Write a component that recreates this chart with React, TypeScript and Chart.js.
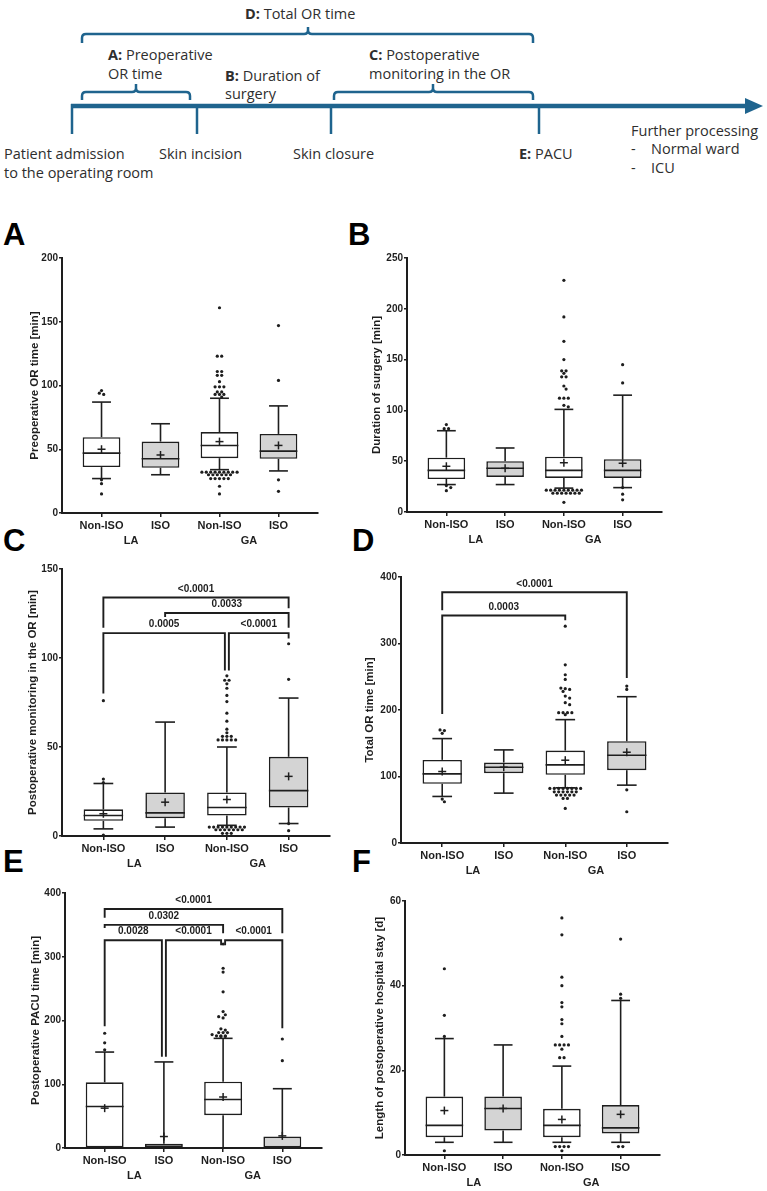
import React, { useEffect, useRef } from "react";
import { Chart, registerables } from "chart.js";

Chart.register(...registerables);

// ---------- shared labels ----------
const categories = ["Non-ISO", "ISO", "Non-ISO", "ISO"];
const groupLabels = ["LA", "GA"];

// ---------- Panel A: Preoperative OR time ----------
const aQ1 = [36, 35.5, 43, 42.5];
const aMedian = [47, 42.5, 53, 48.5];
const aQ3 = [59.5, 56, 63.5, 62];
const aLow = [27, 30, 34, 33];
const aHigh = [87, 70, 90, 84];
const aMean = [50, 45.5, 56, 53];
const aOutliers = [
  [96, 94, 93, 26, 23, 15],
  [],
  [161, 123, 123, 111, 111, 108, 108, 103, 99, 99, 99, 95, 95, 93, 93, 93, 91,
   32, 32, 32, 32, 32, 32, 32, 32, 32, 30, 30, 30, 30, 30, 30, 27, 27, 27, 27, 27, 21, 15],
  [147, 104, 26, 17],
];

// ---------- Panel B: Duration of surgery ----------
const bQ1 = [32.5, 34.5, 33.5, 33.5];
const bMedian = [41, 43, 41, 41];
const bQ3 = [53.5, 50, 54.5, 52];
const bLow = [27, 27, 23.5, 24];
const bHigh = [80, 63, 101, 115];
const bMean = [45, 43, 48.5, 48];
const bOutliers = [
  [86, 82, 82, 26, 24, 21],
  [],
  [228, 192, 168, 150, 139, 139, 136.5, 133, 133, 124, 121, 112, 112, 112, 105, 103.5,
   21.5, 21.5, 21.5, 21.5, 21.5, 21.5, 21.5, 21.5, 21.5, 18.5, 18.5, 18.5, 18.5, 18.5, 18.5, 18.5, 9.5],
  [145, 127, 24, 17.5, 12],
];

// ---------- Panel C: Postoperative monitoring in the OR ----------
const cQ1 = [8.5, 10, 11.5, 16];
const cMedian = [11.5, 13, 16, 25.5];
const cQ3 = [15, 24.5, 24.5, 44.5];
const cLow = [4, 5, 6, 7];
const cHigh = [29.5, 64, 50, 77.5];
const cMean = [12.5, 19, 20.5, 33.5];
const cOutliers = [
  [76, 32, 30, 0.5],
  [],
  [90, 87.5, 87.5, 85.5, 83, 79, 75.5, 69, 64.5, 60, 58, 56, 56, 56, 54, 54, 54, 54, 54,
   5, 5, 5, 5, 5, 5, 5, 5, 5, 3.5, 3.5, 3.5, 3.5, 3.5, 3.5, 3.5, 1.5, 1.5, 1.5],
  [108, 88, 7, 3],
];
const cBrackets = [
  { from: 0, to: 3, level: 134, legFrom: 117, legTo: 128, label: "<0.0001" },
  { from: 1, to: 3, level: 125.3, legFrom: 123, legTo: 117, label: "0.0033" },
  { from: 0, to: 2, level: 114, legFrom: 80, legTo: 93, label: "0.0005" },
  { from: 2, to: 3, level: 114, legFrom: 93, legTo: 111, label: "<0.0001" },
];

// ---------- Panel D: Total OR time ----------
const dQ1 = [89, 105, 102.5, 109.5];
const dMedian = [104, 114, 117.5, 132];
const dQ3 = [125, 121, 139, 153];
const dLow = [70, 75, 83, 87];
const dHigh = [157, 140, 185.5, 220];
const dMean = [107.5, 114, 124.5, 136.5];
const dOutliers = [
  [170, 169, 165, 66, 62],
  [],
  [326, 268, 253, 246, 233, 232, 231, 228, 221, 218, 211, 208, 196, 196, 196, 196, 193,
   82, 82, 82, 82, 82, 82, 82, 82, 77, 77, 77, 77, 77, 77, 72, 72, 72, 72, 72, 67, 67, 52],
  [236, 231, 80, 47],
];
const dBrackets = [
  { from: 0, to: 3, level: 377, legFrom: 350, legTo: 248, label: "<0.0001" },
  { from: 0, to: 2, level: 342, legFrom: 194, legTo: 335, label: "0.0003" },
];

// ---------- Panel E: Postoperative PACU time ----------
const eQ1 = [0, 0, 51.5, 0];
const eMedian = [65, 0, 76, 0];
const eQ3 = [103, 6.5, 104, 18];
const eLow = [0, 0, 0, 0];
const eHigh = [150.5, 135, 172, 93];
const eMean = [62.5, 18, 80, 19];
const eOutliers = [
  [180, 165, 154],
  [],
  [320, 282, 276, 245, 214, 209, 206, 204, 187, 185, 181, 181, 181, 178, 176, 176, 176, 175, 175],
  [171, 137],
];
const eBrackets = [
  { from: 0, to: 3, level: 375, legFrom: 361, legTo: 337, label: "<0.0001" },
  { from: 0, to: 2, level: 350, legFrom: 345, legTo: 337, label: "0.0302" },
  { from: 0, to: 1, level: 326, legFrom: 191, legTo: 143, label: "0.0028" },
  { from: 1, to: 2, level: 326, legFrom: 143, legTo: 318, label: "<0.0001" },
  { from: 2, to: 3, level: 326, legFrom: 318, legTo: 188, label: "<0.0001" },
];

// ---------- Panel F: Length of postoperative hospital stay ----------
const fQ1 = [4.2, 5.8, 4.2, 5.1];
const fMedian = [7, 11, 7, 6.4];
const fQ3 = [13.8, 13.8, 10.9, 11.8];
const fLow = [3, 3, 3, 3];
const fHigh = [27.5, 26, 21, 36.5];
const fMean = [10.5, 11, 8.4, 9.6];
const fOutliers = [
  [44, 33, 28, 1],
  [],
  [56, 52, 42, 40, 36, 35, 32, 31, 28, 26, 26, 26, 26, 25, 23, 23, 2, 2, 2, 2, 1],
  [51, 38, 37, 2, 2],
];

// ---------- styles ----------
const INK = "#1e1e1e";
const FILLS = ["#ffffff", "#d4d4d4", "#ffffff", "#d4d4d4"];
const FONT = "'Liberation Sans', Arial, sans-serif";
const TEAL = "#1f648e";
const TITLE_SIZE = 11.5;

type Stats = {
  q1: number[]; median: number[]; q3: number[]; low: number[]; high: number[];
  mean: number[]; outliers: number[][];
};
type Bracket = { from: number; to: number; level: number; legFrom: number; legTo: number; label: string };
type Box = { left: number; top: number; width: number; height: number };
type Area = { left: number; top: number; right: number; bottom: number };

// Prism-like scatter of outlier dots: rows of (nearly) equal values are centred side by side,
// a row is shifted half a step if it would touch the row above.
function swarm(ys: number[], sep: number): number[] {
  const order = ys.map((_, i) => i).sort((a, b) => ys[a] - ys[b]);
  const rows: number[][] = [];
  let cur: number[] = [];
  let start = 0;
  for (const i of order) {
    if (cur.length && ys[i] - start > 1.5) {
      rows.push(cur);
      cur = [];
    }
    if (!cur.length) start = ys[i];
    cur.push(i);
  }
  if (cur.length) rows.push(cur);
  const out = new Array(ys.length).fill(0);
  const placed: { x: number; y: number }[] = [];
  const minD = 3.3;
  for (const row of rows) {
    const n = row.length;
    const base = row.map((_, k) => (k - (n - 1) / 2) * sep);
    const shifts = [0, sep / 2, -sep / 2, sep, -sep, 1.5 * sep, -1.5 * sep];
    let best = 0;
    for (const s of shifts) {
      const ok = row.every((idx, k) =>
        placed.every((q) => (q.x - base[k] - s) ** 2 + (q.y - ys[idx]) ** 2 >= minD * minD)
      );
      if (ok) {
        best = s;
        break;
      }
    }
    row.forEach((idx, k) => {
      out[idx] = base[k] + best;
      placed.push({ x: out[idx], y: ys[idx] });
    });
  }
  return out;
}

function BoxPanel(props: {
  id: string; stats: Stats; brackets: Bracket[]; yMax: number; yStep: number;
  yTitle: string; canvas: Box; area: Area; titleX: number;
}) {
  const ref = useRef<HTMLCanvasElement>(null);
  useEffect(() => {
    const { stats, brackets, canvas: c, area: a } = props;
    const lh = TITLE_SIZE * 1.2;
    const padLeft = props.titleX - c.left - lh / 2;

    const extras = {
      id: "boxExtras" + props.id,
      afterDatasetsDraw(chart: any) {
        const ctx = chart.ctx as CanvasRenderingContext2D;
        const xs = chart.scales.x;
        const ys = chart.scales.y;
        const meta = chart.getDatasetMeta(0);
        ctx.save();
        ctx.strokeStyle = INK;
        ctx.fillStyle = INK;
        ctx.lineWidth = 1.6;
        const line = (x1: number, y1: number, x2: number, y2: number) => {
          ctx.beginPath();
          ctx.moveTo(x1, y1);
          ctx.lineTo(x2, y2);
          ctx.stroke();
        };
        stats.q1.forEach((_, i) => {
          const cx = xs.getPixelForValue(i);
          const bw = meta.data[i].width;
          const cap = bw * 0.5;
          const yQ1 = ys.getPixelForValue(stats.q1[i]);
          const yQ3 = ys.getPixelForValue(stats.q3[i]);
          const yHi = ys.getPixelForValue(stats.high[i]);
          const yLo = ys.getPixelForValue(stats.low[i]);
          const yMed = ys.getPixelForValue(stats.median[i]);
          const yMean = ys.getPixelForValue(stats.mean[i]);
          if (stats.high[i] > stats.q3[i]) {
            line(cx, yQ3, cx, yHi);
            line(cx - cap / 2, yHi, cx + cap / 2, yHi);
          }
          if (stats.low[i] < stats.q1[i]) {
            line(cx, yQ1, cx, yLo);
            line(cx - cap / 2, yLo, cx + cap / 2, yLo);
          }
          line(cx - bw / 2, yMed, cx + bw / 2, yMed);
          ctx.lineWidth = 1.5;
          line(cx - 4, yMean, cx + 4, yMean);
          line(cx, yMean - 4, cx, yMean + 4);
          ctx.lineWidth = 1.6;
          const pys = stats.outliers[i].map((v) => ys.getPixelForValue(v));
          const offs = swarm(pys, 4.4);
          pys.forEach((py, k) => {
            ctx.beginPath();
            ctx.arc(cx + offs[k], py, 1.6, 0, Math.PI * 2);
            ctx.fill();
          });
        });
        // significance brackets
        ctx.lineWidth = 1.9;
        ctx.lineJoin = "miter";
        ctx.font = `bold 10px ${FONT}`;
        ctx.textAlign = "center";
        ctx.textBaseline = "middle";
        brackets.forEach((b) => {
          let xa = xs.getPixelForValue(b.from);
          let xb = xs.getPixelForValue(b.to);
          if (brackets.some((o) => o !== b && o.level === b.level && o.to === b.from)) xa += 2;
          if (brackets.some((o) => o !== b && o.level === b.level && o.from === b.to)) xb -= 2;
          const yl = ys.getPixelForValue(b.level);
          ctx.beginPath();
          ctx.moveTo(xa, ys.getPixelForValue(b.legFrom));
          ctx.lineTo(xa, yl);
          ctx.lineTo(xb, yl);
          ctx.lineTo(xb, ys.getPixelForValue(b.legTo));
          ctx.stroke();
          ctx.fillText(b.label, (xa + xb) / 2, yl - 8.5);
        });
        ctx.restore();
      },
      afterDraw(chart: any) {
        const ctx = chart.ctx as CanvasRenderingContext2D;
        const xs = chart.scales.x;
        ctx.save();
        ctx.fillStyle = INK;
        ctx.font = `bold 11px ${FONT}`;
        ctx.textAlign = "center";
        ctx.textBaseline = "middle";
        groupLabels.forEach((g, gi) => {
          const cx = (xs.getPixelForValue(gi * 2) + xs.getPixelForValue(gi * 2 + 1)) / 2;
          ctx.fillText(g, cx, chart.chartArea.bottom + 28);
        });
        ctx.restore();
      },
    };

    const chart = new Chart(ref.current as HTMLCanvasElement, {
      type: "bar",
      data: {
        datasets: [
          {
            data: stats.q1.map((v, i) => ({ x: i, y: [v, stats.q3[i]] })) as any,
            backgroundColor: FILLS,
            borderColor: INK,
            borderWidth: 1.6,
            borderSkipped: false,
            barPercentage: 0.64,
            categoryPercentage: 1,
          },
        ],
      },
      options: {
        responsive: false,
        animation: false,
        devicePixelRatio: 1,
        events: [],
        layout: {
          padding: { left: padLeft, top: a.top - c.top, right: c.left + c.width - a.right, bottom: 0 },
        },
        plugins: { legend: { display: false }, tooltip: { enabled: false } },
        scales: {
          x: {
            type: "linear",
            offset: false,
            min: -0.67,
            max: 3.67,
            afterBuildTicks: (s: any) => {
              s.ticks = categories.map((_, i) => ({ value: i }));
            },
            afterFit: (s: any) => {
              s.height = c.top + c.height - a.bottom;
            },
            ticks: {
              callback: (v: any) => categories[v as number],
              font: { family: FONT, size: 11, weight: "bold" },
              color: INK,
              padding: 2,
              autoSkip: false,
              maxRotation: 0,
              includeBounds: false,
            },
            grid: { offset: false, drawOnChartArea: false, drawTicks: true, tickLength: 4, color: INK, lineWidth: 1.5 },
            border: { display: true, color: INK, width: 2 },
          },
          y: {
            min: 0,
            max: props.yMax,
            afterFit: (s: any) => {
              s.width = a.left - c.left - padLeft;
            },
            ticks: {
              stepSize: props.yStep,
              font: { family: FONT, size: 10, weight: "bold" },
              color: INK,
              padding: 1,
            },
            title: {
              display: true,
              text: props.yTitle,
              font: { family: FONT, size: TITLE_SIZE, weight: "bold" },
              color: INK,
              padding: 0,
            },
            grid: { drawOnChartArea: false, drawTicks: true, tickLength: 3, color: INK, lineWidth: 1.5 },
            border: { display: true, color: INK, width: 2 },
          },
        },
      } as any,
      plugins: [extras as any],
    });
    return () => chart.destroy();
  }, []);
  const c = props.canvas;
  return (
    <canvas
      ref={ref}
      width={c.width}
      height={c.height}
      style={{ position: "absolute", left: c.left, top: c.top, width: c.width, height: c.height }}
    />
  );
}

function brace(x1: number, x2: number, yLine: number, yEnd: number, yTip: number, xTip: number) {
  const r = 4;
  return (
    `M ${x1} ${yEnd} L ${x1} ${yLine + r} Q ${x1} ${yLine} ${x1 + r} ${yLine} L ${xTip - r} ${yLine} ` +
    `Q ${xTip} ${yLine} ${xTip} ${yLine - r} L ${xTip} ${yTip} ` +
    `M ${xTip} ${yLine - r} Q ${xTip} ${yLine} ${xTip + r} ${yLine} L ${x2 - r} ${yLine} ` +
    `Q ${x2} ${yLine} ${x2} ${yLine + r} L ${x2} ${yEnd}`
  );
}

function Timeline() {
  const txt = { dominantBaseline: "central" as const };
  return (
    <svg
      width={767}
      height={200}
      style={{ position: "absolute", left: 0, top: 0 }}
      fontFamily="'Open Sans', sans-serif"
      fontSize={14.5}
      fill="#2e2e2e"
    >
      <g stroke={TEAL} strokeWidth={2.5} fill="none">
        <path d={brace(82, 533, 34, 43, 27, 308)} />
        <path d={brace(82, 190, 92, 100, 84, 136)} />
        <path d={brace(334, 533, 92, 100, 84, 433)} />
        <line x1={72} y1={104} x2={72} y2={134} />
        <line x1={197} y1={104} x2={197} y2={134} />
        <line x1={331} y1={104} x2={331} y2={134} />
        <line x1={539} y1={104} x2={539} y2={134} />
        <line x1={71} y1={106} x2={748} y2={106} strokeWidth={4.5} />
      </g>
      <polygon points="745,98 763,106 745,114" fill={TEAL} />
      <text x={245} y={13} {...txt}><tspan fontWeight="bold">D:</tspan> Total OR time</text>
      <text x={108} y={54} {...txt}><tspan fontWeight="bold">A:</tspan> Preoperative</text>
      <text x={108} y={73} {...txt}>OR time</text>
      <text x={225} y={75} {...txt}><tspan fontWeight="bold">B:</tspan> Duration of</text>
      <text x={225} y={93} {...txt}>surgery</text>
      <text x={369} y={54} {...txt}><tspan fontWeight="bold">C:</tspan> Postoperative</text>
      <text x={369} y={73} {...txt}>monitoring in the OR</text>
      <text x={4} y={153} {...txt}>Patient admission</text>
      <text x={4} y={172} {...txt}>to the operating room</text>
      <text x={159} y={153} {...txt}>Skin incision</text>
      <text x={293} y={153} {...txt}>Skin closure</text>
      <text x={519} y={153} {...txt}><tspan fontWeight="bold">E:</tspan> PACU</text>
      <text x={631} y={130} {...txt}>Further processing</text>
      <text x={631} y={148} {...txt}>-</text>
      <text x={651} y={148} {...txt}>Normal ward</text>
      <text x={631} y={167} {...txt}>-</text>
      <text x={651} y={167} {...txt}>ICU</text>
    </svg>
  );
}

function Letter({ ch, x, y }: { ch: string; x: number; y: number }) {
  return (
    <div
      style={{
        position: "absolute", left: x, top: y - 4, fontFamily: FONT, fontWeight: "bold",
        fontSize: 31, lineHeight: 1, color: "#000",
      }}
    >
      {ch}
    </div>
  );
}

export default function App() {
  return (
    <div style={{ position: "absolute", left: 0, top: 0, width: 767, height: 1191, background: "#fff", overflow: "hidden" }}>
      <Timeline />
      <Letter ch="A" x={3} y={223} />
      <Letter ch="B" x={348} y={223} />
      <Letter ch="C" x={3} y={529} />
      <Letter ch="D" x={352} y={529} />
      <Letter ch="E" x={3} y={850} />
      <Letter ch="F" x={352} y={850} />
      <BoxPanel
        id="A"
        stats={{ q1: aQ1, median: aMedian, q3: aQ3, low: aLow, high: aHigh, mean: aMean, outliers: aOutliers }}
        brackets={[]}
        yMax={200} yStep={50} yTitle="Preoperative OR time [min]"
        canvas={{ left: 0, top: 245, width: 362, height: 305 }}
        area={{ left: 62, top: 258, right: 318, bottom: 513 }}
        titleX={35}
      />
      <BoxPanel
        id="B"
        stats={{ q1: bQ1, median: bMedian, q3: bQ3, low: bLow, high: bHigh, mean: bMean, outliers: bOutliers }}
        brackets={[]}
        yMax={250} yStep={50} yTitle="Duration of surgery [min]"
        canvas={{ left: 362, top: 245, width: 405, height: 305 }}
        area={{ left: 407, top: 258, right: 662, bottom: 512 }}
        titleX={377}
      />
      <BoxPanel
        id="C"
        stats={{ q1: cQ1, median: cMedian, q3: cQ3, low: cLow, high: cHigh, mean: cMean, outliers: cOutliers }}
        brackets={cBrackets}
        yMax={150} yStep={50} yTitle="Postoperative monitoring in the OR [min]"
        canvas={{ left: 0, top: 558, width: 362, height: 322 }}
        area={{ left: 62, top: 569, right: 330, bottom: 836 }}
        titleX={33}
      />
      <BoxPanel
        id="D"
        stats={{ q1: dQ1, median: dMedian, q3: dQ3, low: dLow, high: dHigh, mean: dMean, outliers: dOutliers }}
        brackets={dBrackets}
        yMax={400} yStep={100} yTitle="Total OR time [min]"
        canvas={{ left: 362, top: 558, width: 405, height: 322 }}
        area={{ left: 401, top: 577, right: 668, bottom: 843 }}
        titleX={370}
      />
      <BoxPanel
        id="E"
        stats={{ q1: eQ1, median: eMedian, q3: eQ3, low: eLow, high: eHigh, mean: eMean, outliers: eOutliers }}
        brackets={eBrackets}
        yMax={400} yStep={100} yTitle="Postoperative PACU time [min]"
        canvas={{ left: 0, top: 881, width: 362, height: 310 }}
        area={{ left: 65, top: 893, right: 322, bottom: 1148 }}
        titleX={36}
      />
      <BoxPanel
        id="F"
        stats={{ q1: fQ1, median: fMedian, q3: fQ3, low: fLow, high: fHigh, mean: fMean, outliers: fOutliers }}
        brackets={[]}
        yMax={60} yStep={20} yTitle="Length of postoperative hospital stay [d]"
        canvas={{ left: 362, top: 881, width: 405, height: 310 }}
        area={{ left: 405, top: 901, right: 660, bottom: 1155 }}
        titleX={380}
      />
    </div>
  );
}
